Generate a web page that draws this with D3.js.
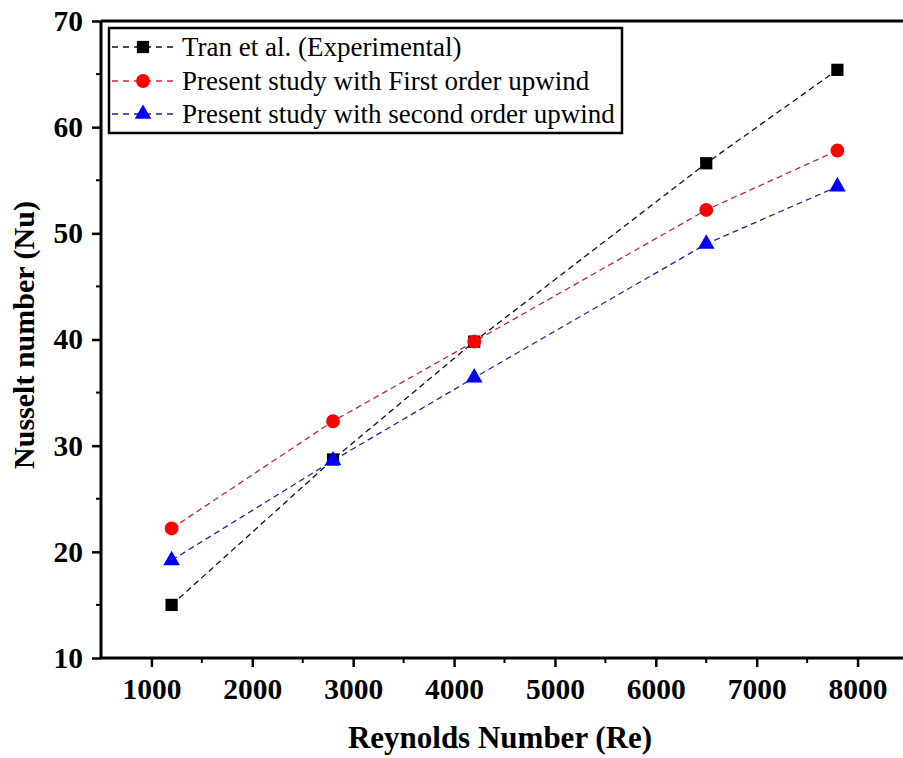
<!DOCTYPE html>
<html>
<head>
<meta charset="utf-8">
<script src="https://cdn.jsdelivr.net/npm/d3@7"></script>
<style>
  html, body { margin: 0; padding: 0; background: #fff; }
  svg { display: block; }
  text { font-family: "Liberation Serif", "Times New Roman", serif; }
</style>
</head>
<body>
<svg id="chart" width="903" height="758"></svg>
<script>
// Nusselt number vs Reynolds number for three data sets
const reynolds = [1200, 2800, 4200, 6500, 7800];
const tranExperimental = [15.0, 28.7, 39.8, 56.6, 65.4];
const firstOrderUpwind = [22.2, 32.3, 39.8, 52.2, 57.8];
const secondOrderUpwind = [19.2, 28.6, 36.4, 49.0, 54.4];

const seriesNames = [
  "Tran et al. (Experimental)",
  "Present study with First order upwind",
  "Present study with second order upwind"
];
const xTicks = [1000, 2000, 3000, 4000, 5000, 6000, 7000, 8000];
const yTicks = [10, 20, 30, 40, 50, 60, 70];

const series = [
  { name: seriesNames[0], values: tranExperimental, line: "#111111", fill: "#000000", symbol: d3.symbolSquare, size: 150 },
  { name: seriesNames[1], values: firstOrderUpwind, line: "#c0283a", fill: "#ff0000", symbol: d3.symbolCircle, size: 150 },
  { name: seriesNames[2], values: secondOrderUpwind, line: "#22229a", fill: "#0000ff", symbol: d3.symbolTriangle, size: 120 }
];

const svg = d3.select("#chart");
const plotLeft = 101, plotTop = 21, plotBottom = 658;

const x = d3.scaleLinear().domain([500, 8500]).range([plotLeft, 908]);
const y = d3.scaleLinear().domain([10, 70]).range([plotBottom, plotTop]);

// top frame line
svg.append("line")
  .attr("x1", plotLeft).attr("x2", 903)
  .attr("y1", plotTop).attr("y2", plotTop)
  .attr("stroke", "#000").attr("stroke-width", 3);

// minor ticks
const xMinor = d3.range(1500, 8500, 1000);
const yMinor = d3.range(15, 70, 10);

const gx = svg.append("g").attr("transform", `translate(0,${plotBottom})`);
gx.selectAll("line.minor").data(xMinor).join("line")
  .attr("x1", d => x(d)).attr("x2", d => x(d))
  .attr("y1", 0).attr("y2", 5)
  .attr("stroke", "#000").attr("stroke-width", 2);
gx.call(d3.axisBottom(x).tickValues(xTicks).tickSize(9).tickPadding(11).tickFormat(d3.format("d")));
gx.select(".domain").attr("stroke-width", 3).attr("d", `M${plotLeft},0H903`);
gx.selectAll(".tick line").attr("stroke-width", 2.5);
gx.selectAll(".tick text")
  .attr("font-size", 29.5).attr("font-weight", "bold")
  .attr("font-family", "Liberation Serif, serif").attr("fill", "#000");

const gy = svg.append("g").attr("transform", `translate(${plotLeft},0)`);
gy.selectAll("line.minor").data(yMinor).join("line")
  .attr("x1", 0).attr("x2", -5)
  .attr("y1", d => y(d)).attr("y2", d => y(d))
  .attr("stroke", "#000").attr("stroke-width", 2);
gy.call(d3.axisLeft(y).tickValues(yTicks).tickSize(9).tickPadding(9));
gy.select(".domain").attr("stroke-width", 3).attr("d", `M0,${plotTop}V${plotBottom}`);
gy.selectAll(".tick line").attr("stroke-width", 2.5);
gy.selectAll(".tick text")
  .attr("font-size", 29.5).attr("font-weight", "bold")
  .attr("font-family", "Liberation Serif, serif").attr("fill", "#000");

// axis titles
svg.append("text")
  .attr("x", 500).attr("y", 748)
  .attr("text-anchor", "middle")
  .attr("font-size", 31).attr("font-weight", "bold")
  .text("Reynolds Number (Re)");

svg.append("text")
  .attr("transform", "translate(34,335) rotate(-90)")
  .attr("text-anchor", "middle")
  .attr("font-size", 30).attr("font-weight", "bold")
  .text("Nusselt number (Nu)");

// data lines and markers
const line = d3.line().x((d, i) => x(reynolds[i])).y(d => y(d));
series.forEach(s => {
  svg.append("path")
    .attr("d", line(s.values))
    .attr("fill", "none")
    .attr("stroke", s.line)
    .attr("stroke-width", 1.3)
    .attr("stroke-dasharray", "6,4");
});
series.forEach(s => {
  svg.append("g").selectAll("path")
    .data(s.values)
    .join("path")
    .attr("transform", (d, i) => `translate(${x(reynolds[i])},${y(d)})`)
    .attr("d", d3.symbol().type(s.symbol).size(s.size))
    .attr("fill", s.fill);
});

// legend
const legend = svg.append("g");
legend.append("rect")
  .attr("x", 109).attr("y", 28)
  .attr("width", 513).attr("height", 105)
  .attr("fill", "#fff").attr("stroke", "#000").attr("stroke-width", 2.5);
const rowY = [47, 81, 114];
series.forEach((s, i) => {
  const g = legend.append("g").attr("transform", `translate(0,${rowY[i]})`);
  g.append("line")
    .attr("x1", 112).attr("x2", 176)
    .attr("stroke", s.line).attr("stroke-width", 1.3)
    .attr("stroke-dasharray", "6,5");
  g.append("path")
    .attr("transform", "translate(143,0)")
    .attr("d", d3.symbol().type(s.symbol).size(s.size))
    .attr("fill", s.fill);
  g.append("text")
    .attr("x", 182).attr("y", 9)
    .attr("font-size", 27)
    .text(s.name);
});
</script>
</body>
</html>
